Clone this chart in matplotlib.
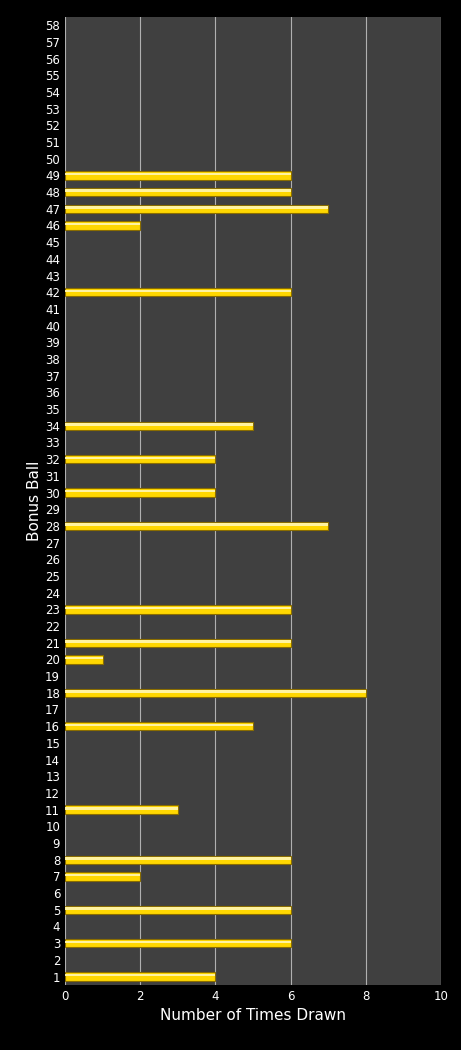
import matplotlib
matplotlib.use('Agg')
import matplotlib.pyplot as plt
import numpy as np

balls = [1, 3, 5, 7, 8, 11, 16, 18, 20, 21, 23, 28, 30, 32, 34, 42, 46, 47, 48, 49]
counts = [4, 6, 6, 2, 6, 3, 5, 8, 1, 6, 6, 7, 4, 4, 5, 6, 2, 7, 6, 6]

fig = plt.figure(figsize=(4.61, 10.5), dpi=100, facecolor='black')
ax = fig.add_axes([0.141, 0.062, 0.816, 0.922])
ax.set_facecolor('#404040')

ax.barh(balls, counts, height=0.5, color='#FFD700', edgecolor='#8a6d00', linewidth=0.8, zorder=3)
# highlight stripe on top of each bar
ax.barh(np.array(balls) + 0.08, counts, height=0.15, color='#FFF3A0', linewidth=0, zorder=4)

ax.set_xlim(0, 10)
ax.set_ylim(0.5, 58.5)
ax.set_xticks(range(0, 11, 2))
ax.set_yticks(range(1, 59))
ax.tick_params(colors='white', labelsize=8.5, length=0)
ax.grid(axis='x', color='#b0b0b0', linewidth=0.8, zorder=0)
for s in ax.spines.values():
    s.set_visible(False)

ax.set_xlabel('Number of Times Drawn', color='white', fontsize=11)
ax.set_ylabel('Bonus Ball', color='white', fontsize=11, labelpad=2)

fig.savefig('out.png', dpi=100, facecolor='black')
